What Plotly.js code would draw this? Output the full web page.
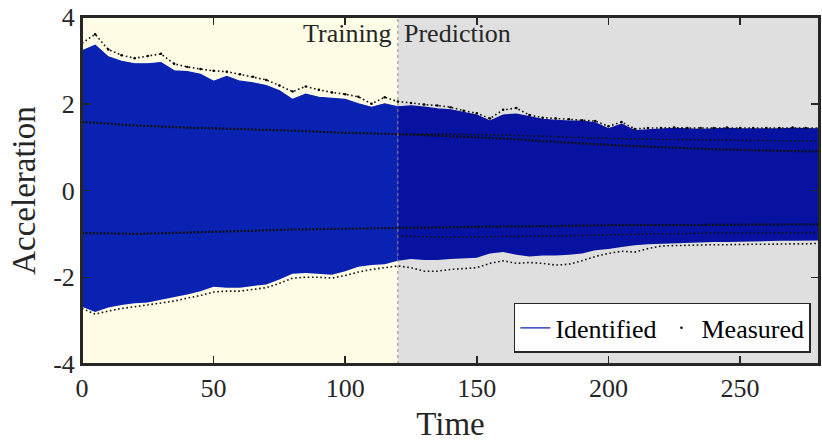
<!DOCTYPE html>
<html>
<head>
<meta charset="utf-8">
<script src="https://cdn.plot.ly/plotly-3.0.1.min.js"></script>
<style>
  html, body { margin: 0; padding: 0; background: #ffffff; overflow: hidden; }
  #chart { width: 822px; height: 442px; display: block; }
</style>
</head>
<body>
<div id="chart"></div>
<script>
// Sample times (s)
const time = [0,5,10,15,20,25,30,35,40,45,50,55,60,65,70,75,80,85,90,95,100,105,110,115,120,
  125,130,135,140,145,150,155,160,165,170,175,180,185,190,195,200,205,210,215,220,225,230,235,240,245,250,255,260,265,270,275,280];

// Identified response: upper and lower envelope of the oscillation
const identifiedUpper = [3.22,3.35,3.08,2.98,2.92,2.92,2.95,2.76,2.74,2.68,2.52,2.63,2.52,2.48,2.42,2.30,2.10,2.22,2.15,2.12,2.10,2.00,1.92,2.00,1.93,
  1.95,1.92,1.88,1.86,1.80,1.74,1.60,1.74,1.76,1.70,1.64,1.62,1.60,1.60,1.56,1.42,1.53,1.38,1.40,1.42,1.43,1.42,1.41,1.42,1.43,1.42,1.42,1.41,1.42,1.43,1.42,1.42];
const identifiedLower = [-2.68,-2.80,-2.70,-2.64,-2.60,-2.58,-2.52,-2.46,-2.40,-2.32,-2.22,-2.24,-2.24,-2.20,-2.17,-2.05,-1.92,-1.90,-1.92,-1.94,-1.86,-1.76,-1.72,-1.70,-1.62,
  -1.58,-1.60,-1.60,-1.58,-1.56,-1.55,-1.45,-1.42,-1.48,-1.52,-1.50,-1.50,-1.48,-1.45,-1.38,-1.35,-1.30,-1.26,-1.24,-1.23,-1.22,-1.20,-1.20,-1.19,-1.19,-1.18,-1.17,-1.17,-1.16,-1.16,-1.15,-1.15];

// Measured response: outer extremes and the dense turning-point bands
const measuredUpper = [3.40,3.60,3.25,3.12,3.05,3.10,3.15,2.92,2.85,2.80,2.76,2.74,2.68,2.62,2.55,2.42,2.28,2.40,2.32,2.26,2.22,2.16,2.00,2.15,2.05,
  2.02,1.98,1.96,1.92,1.84,1.78,1.66,1.86,1.90,1.74,1.68,1.66,1.64,1.62,1.60,1.48,1.58,1.42,1.44,1.44,1.45,1.44,1.44,1.44,1.45,1.44,1.44,1.44,1.44,1.45,1.44,1.44];
const measuredLower = [-2.72,-2.85,-2.78,-2.72,-2.68,-2.64,-2.60,-2.55,-2.48,-2.42,-2.34,-2.32,-2.32,-2.28,-2.24,-2.14,-2.02,-2.00,-2.00,-2.02,-1.96,-1.88,-1.82,-1.78,-1.74,
  -1.78,-1.86,-1.86,-1.82,-1.80,-1.78,-1.68,-1.62,-1.68,-1.66,-1.68,-1.72,-1.70,-1.62,-1.52,-1.45,-1.40,-1.42,-1.34,-1.28,-1.27,-1.26,-1.26,-1.25,-1.25,-1.24,-1.24,-1.24,-1.23,-1.23,-1.23,-1.22];
const bandTime = [0,20,40,60,80,100,120,140,160,180,200,220,240,260,280];
const measuredBandHigh = [1.58,1.50,1.45,1.42,1.38,1.33,1.30,1.25,1.20,1.12,1.05,1.00,0.95,0.92,0.90];
const measuredBandLow = [-0.98,-1.00,-0.97,-0.93,-0.90,-0.88,-0.86,-0.85,-0.83,-0.82,-0.80,-0.80,-0.79,-0.78,-0.78];
const predBandTime = [120,140,160,180,200,220,240,260,280];
const measuredPredHigh = [1.30,1.30,1.28,1.24,1.20,1.18,1.16,1.15,1.14];
const measuredPredLow = [-1.05,-1.08,-1.06,-1.05,-1.02,-1.00,-0.98,-0.98,-0.97];

// Phase boundary and axis ticks
const trainEnd = 120;
const xRange = [0, 280];
const yRange = [-4, 4];
const xTicks = [0,50,100,150,200,250];
const yTicks = [-4,-2,0,2,4];

const SERIF = 'Liberation Serif';
const INK = '#262626';
const BLUE_TRAIN = '#0A22B2';
const BLUE_PRED = '#0712A0';

// split a series at the end of the training phase
function segment(arr, from, to) {
  const out = [];
  time.forEach((t, i) => { if (t >= from && t <= to) out.push(arr[i]); });
  return out;
}
const tTrain = time.filter(t => t <= trainEnd);
const tPred = time.filter(t => t >= trainEnd);

const traces = [];
function band(tt, lo, hi, color) {
  traces.push({ x: tt, y: lo, mode: 'lines', line: { width: 0, color: color }, showlegend: false, hoverinfo: 'skip' });
  traces.push({ x: tt, y: hi, mode: 'lines', fill: 'tonexty', fillcolor: color,
    line: { width: 0, color: color }, showlegend: false, hoverinfo: 'skip' });
}
band(tTrain, segment(identifiedLower, 0, trainEnd), segment(identifiedUpper, 0, trainEnd), BLUE_TRAIN);
band(tPred, segment(identifiedLower, trainEnd, 300), segment(identifiedUpper, trainEnd, 300), BLUE_PRED);

// identified outline (also the legend entry)
traces.push({ x: tTrain, y: segment(identifiedUpper, 0, trainEnd), mode: 'lines', name: 'Identified',
  legendgroup: 'id', line: { color: BLUE_TRAIN, width: 1.2 }, hoverinfo: 'skip' });
traces.push({ x: tPred, y: segment(identifiedUpper, trainEnd, 300), mode: 'lines', name: 'Identified',
  legendgroup: 'id', showlegend: false, line: { color: BLUE_PRED, width: 1.2 }, hoverinfo: 'skip' });

function dots(xx, yy, w, dash) {
  traces.push({ x: xx, y: yy, mode: 'lines', line: { color: '#111111', width: w, dash: dash },
    showlegend: false, hoverinfo: 'skip' });
}
dots(time, measuredUpper, 1.6, '1.6px,2.6px');
dots(time, measuredLower, 1.6, '1.6px,2.6px');
dots(bandTime, measuredBandHigh, 2.2, '2px,1.6px');
dots(bandTime, measuredBandLow, 2.2, '2px,1.6px');
dots(predBandTime, measuredPredHigh, 1.6, '1.6px,2.4px');
dots(predBandTime, measuredPredLow, 1.6, '1.6px,2.4px');

// measured extremes as point samples (legend entry)
traces.push({ x: time, y: measuredUpper, mode: 'markers', name: 'Measured',
  marker: { color: '#000000', size: 2.5 }, hoverinfo: 'skip' });

const layout = {
  width: 822, height: 442,
  margin: { l: 82, r: 3, t: 17, b: 78 },
  paper_bgcolor: '#ffffff',
  plot_bgcolor: '#ffffff',
  font: { family: SERIF, color: INK, size: 26 },
  showlegend: true,
  legend: {
    orientation: 'h', traceorder: 'normal', x: 0.989, xanchor: 'right', y: 0.032, yanchor: 'bottom',
    bgcolor: '#ffffff', bordercolor: INK, borderwidth: 1.5,
    font: { family: SERIF, size: 26, color: '#000000' },
    tracegroupgap: 0
  },
  xaxis: {
    range: xRange, tickvals: xTicks, ticktext: xTicks.map(String),
    ticks: 'inside', ticklen: 8, tickwidth: 1.5, tickcolor: INK,
    showline: true, linecolor: INK, linewidth: 2, mirror: 'allticks',
    showgrid: false, zeroline: false,
    tickfont: { family: SERIF, size: 26, color: INK },
    title: { text: 'Time', font: { family: SERIF, size: 33, color: INK }, standoff: 10 }
  },
  yaxis: {
    range: yRange, tickvals: yTicks, ticktext: yTicks.map(String),
    ticks: 'inside', ticklen: 8, tickwidth: 1.5, tickcolor: INK,
    showline: true, linecolor: INK, linewidth: 2, mirror: 'allticks',
    showgrid: false, zeroline: false,
    tickfont: { family: SERIF, size: 26, color: INK },
    title: { text: 'Acceleration', font: { family: SERIF, size: 33, color: INK }, standoff: 8 }
  },
  shapes: [
    { type: 'rect', layer: 'below', xref: 'x', yref: 'y', x0: xRange[0], x1: trainEnd, y0: yRange[0], y1: yRange[1],
      fillcolor: '#FFFDE6', line: { width: 0 } },
    { type: 'rect', layer: 'below', xref: 'x', yref: 'y', x0: trainEnd, x1: xRange[1], y0: yRange[0], y1: yRange[1],
      fillcolor: '#DFDFDF', line: { width: 0 } },
    { type: 'line', layer: 'above', xref: 'x', yref: 'y', x0: trainEnd, x1: trainEnd, y0: yRange[0], y1: yRange[1],
      line: { color: '#8a8a8a', width: 1, dash: 'dot' } },
    { type: 'rect', layer: 'above', xref: 'paper', yref: 'paper', x0: 0, x1: 1, y0: 0, y1: 1,
      line: { color: INK, width: 2 } }
  ],
  annotations: [
    { text: 'Training', xref: 'x', yref: 'paper', x: trainEnd, y: 0.952, xanchor: 'right', yanchor: 'middle',
      xshift: -4, showarrow: false, font: { family: SERIF, size: 26, color: INK } },
    { text: 'Prediction', xref: 'x', yref: 'paper', x: trainEnd, y: 0.952, xanchor: 'left', yanchor: 'middle',
      xshift: 4, showarrow: false, font: { family: SERIF, size: 26, color: INK } }
  ]
};

Plotly.newPlot('chart', traces, layout, { staticPlot: true, displayModeBar: false });
</script>
</body>
</html>
